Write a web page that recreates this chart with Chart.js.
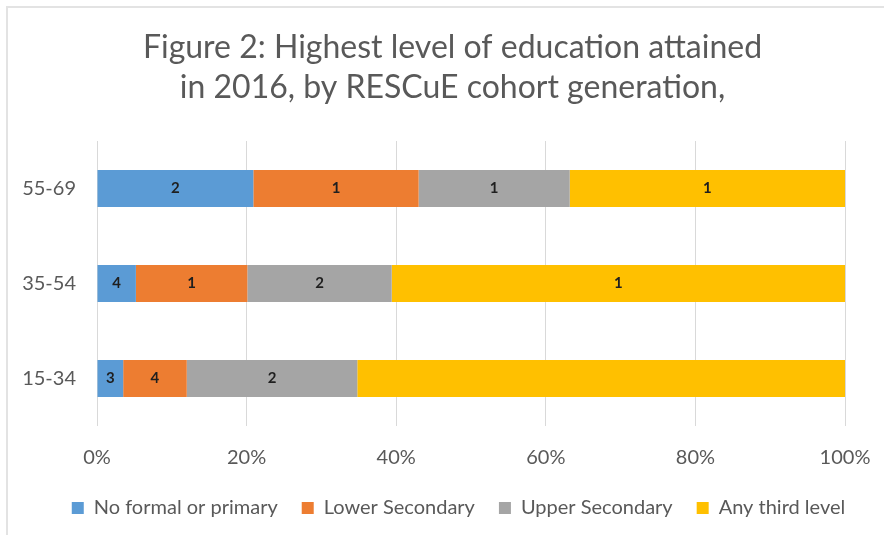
<!DOCTYPE html>
<html>
<head>
<meta charset="utf-8">
<script src="https://cdn.jsdelivr.net/npm/chart.js@4/dist/chart.umd.min.js"></script>
<style>
	html, body { margin: 0; padding: 0; background: #fff; overflow: hidden; }
	#wrap { width: 908px; height: 535px; position: relative; }
</style>
</head>
<body>
<div id="wrap"><canvas id="chart"></canvas></div>
<script>
	// data (percent of each cohort)
	const categories = ["55-69", "35-54", "15-34"]
	const noFormal = [20.9, 5.2, 3.5]
	const lowerSecondary = [22.1, 14.9, 8.5]
	const upperSecondary = [20.2, 19.3, 22.8]
	const thirdLevel = [36.8, 60.6, 65.2]
	// the odd digits printed inside the bars in the original
	const noFormalLabels = ["2", "4", "3"]
	const lowerLabels = ["1", "1", "4"]
	const upperLabels = ["1", "2", "2"]
	const thirdLabels = ["1", "1", ""]
	const xTicks = [0, 20, 40, 60, 80, 100]

	let font = "Lato, 'Open Sans', sans-serif"
	let grey = "#595959"

	let frame = {
		id: "frame",
		beforeDraw: function(chart) {
			let ctx = chart.ctx
			ctx.save()
			ctx.strokeStyle = "#e3e3e3"
			ctx.lineWidth = 2
			ctx.beginPath()
			ctx.moveTo(7, 535)
			ctx.lineTo(7, 7)
			ctx.lineTo(chart.width, 7)
			ctx.stroke()
			ctx.restore()
		},
	}

	// title and legend sit a bit right of centre in the original
	let nudge = {
		id: "nudge",
		afterLayout: function(chart) {
			if(chart.titleBlock) {
				chart.titleBlock.left += 30
				chart.titleBlock.right += 30
			}
			if(chart.legend) {
				chart.legend.left += 36
				chart.legend.right += 36
			}
		},
	}

	let barText = {
		id: "barText",
		afterDatasetsDraw: function(chart) {
			let ctx = chart.ctx
			ctx.save()
			ctx.font = "bold 15px " + font
			ctx.fillStyle = "#1f1f1f"
			ctx.textAlign = "center"
			ctx.textBaseline = "middle"
			chart.data.datasets.forEach(function(ds, i) {
				chart.getDatasetMeta(i).data.forEach(function(bar, j) {
					let txt = ds.inside[j]
					if(txt) {
						ctx.fillText(txt, (bar.x + bar.base) / 2, bar.y)
					}
				})
			})
			ctx.restore()
		},
	}

	let elem = document.querySelector("#chart")
	let chart = new Chart(elem, {
		type: "bar",
		data: {
			labels: categories,
			datasets: [
				{ label: "No formal or primary", data: noFormal, inside: noFormalLabels, backgroundColor: "#5b9bd5" },
				{ label: "Lower Secondary", data: lowerSecondary, inside: lowerLabels, backgroundColor: "#ed7d31" },
				{ label: "Upper Secondary", data: upperSecondary, inside: upperLabels, backgroundColor: "#a5a5a5" },
				{ label: "Any third level", data: thirdLevel, inside: thirdLabels, backgroundColor: "#ffc000" },
			],
		},
		options: {
			indexAxis: "y",
			responsive: true,
			maintainAspectRatio: false,
			animation: false,
			datasets: {
				bar: { barPercentage: 0.39, categoryPercentage: 1, borderWidth: 0 },
			},
			layout: {
				padding: { left: 0, right: 63, top: 20, bottom: 7 },
			},
			scales: {
				x: {
					stacked: true,
					min: 0,
					max: 100,
					afterBuildTicks: function(scale) {
						scale.ticks = xTicks.map(function(v) { return { value: v } })
					},
					afterFit: function(scale) { scale.height = 48 },
					grid: { color: "#d9d9d9", drawTicks: false },
					border: { display: false },
					ticks: {
						padding: 20,
						color: grey,
						font: { family: font, size: 20 },
						callback: function(v) { return v + "%" },
					},
				},
				y: {
					stacked: true,
					afterFit: function(scale) { scale.width = 97 },
					grid: { display: false },
					border: { display: false },
					ticks: {
						padding: 13,
						color: grey,
						font: { family: font, size: 20 },
					},
				},
			},
			plugins: {
				title: {
					display: true,
					text: ["Figure 2: Highest level of education attained", "in 2016, by RESCuE cohort generation,"],
					color: grey,
					font: { family: font, size: 32, weight: "normal", lineHeight: 1.25 },
					padding: { top: 8, bottom: 33 },
				},
				legend: {
					position: "bottom",
					labels: {
						color: grey,
						boxWidth: 12,
						boxHeight: 12,
						padding: 24,
						font: { family: font, size: 20 },
					},
				},
				tooltip: { enabled: false },
			},
		},
		plugins: [frame, nudge, barText],
	})
</script>
</body>
</html>
